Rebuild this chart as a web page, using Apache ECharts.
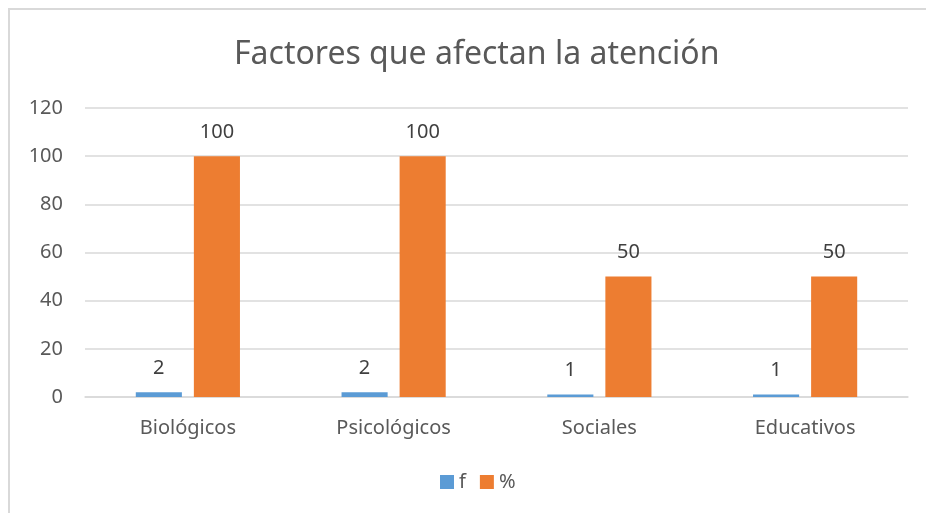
<!DOCTYPE html>
<html>
<head>
<meta charset="utf-8">
<script src="https://cdn.jsdelivr.net/npm/echarts@6/dist/echarts.min.js"></script>
<style>
  html, body { margin: 0; padding: 0; background: #fff; }
  #frame {
    position: absolute; left: 8px; top: 8px; width: 1000px; height: 600px;
    border-left: 2px solid #d9d9d9; border-top: 2px solid #d9d9d9;
  }
  #chart { position: absolute; left: 0; top: 0; width: 926px; height: 513px; }
</style>
</head>
<body>
<div id="frame"></div>
<div id="chart"></div>
<script>
  var categories = ['Biológicos', 'Psicológicos', 'Sociales', 'Educativos'];
  var fValues = [2, 2, 1, 1];
  var pctValues = [100, 100, 50, 50];
  var yTicks = { min: 0, max: 120, interval: 20 };

  var font = 'Noto Sans';
  var chart = echarts.init(document.getElementById('chart'));

  // etiqueta encima de cada barra
  var label = { show: true, position: 'top', distance: 14, color: '#404040', fontSize: 20, fontFamily: font };

  chart.setOption({
    animation: false,
    title: {
      text: 'Factores que afectan la atención',
      left: 229, top: 34,
      textStyle: { color: '#595959', fontSize: 32, fontWeight: 'normal', fontFamily: font }
    },
    legend: {
      bottom: 16, left: 435,
      itemWidth: 14, itemHeight: 14, itemGap: 14,
      icon: 'rect',
      textStyle: { color: '#595959', fontSize: 20, fontFamily: font },
      data: ['f', '%']
    },
    grid: { left: 85, right: 18, top: 108, bottom: 116, containLabel: false },
    xAxis: {
      type: 'category',
      data: categories,
      axisLine: { lineStyle: { color: '#d9d9d9', width: 1.5 } },
      axisTick: { show: false },
      axisLabel: { color: '#595959', fontSize: 20, fontFamily: font, margin: 21 }
    },
    yAxis: {
      type: 'value',
      min: yTicks.min, max: yTicks.max, interval: yTicks.interval,
      axisLine: { show: false },
      axisTick: { show: false },
      splitLine: { lineStyle: { color: '#d9d9d9', width: 1.5 } },
      axisLabel: { color: '#595959', fontSize: 20, fontFamily: font, margin: 22 }
    },
    series: [
      { name: 'f', type: 'bar', data: fValues, barWidth: '22.4%', barGap: '26%',
        itemStyle: { color: '#5b9bd5' }, label: label },
      { name: '%', type: 'bar', data: pctValues, barWidth: '22.4%',
        itemStyle: { color: '#ed7d31' }, label: label }
    ]
  });
</script>
</body>
</html>
